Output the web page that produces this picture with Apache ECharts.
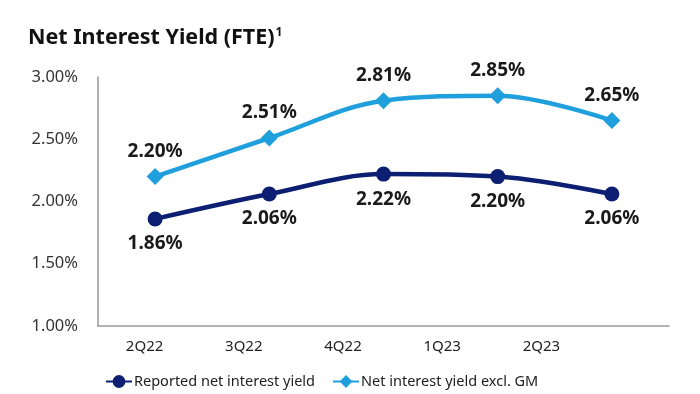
<!DOCTYPE html>
<html><head><meta charset="utf-8">
<script src="https://cdn.jsdelivr.net/npm/echarts@6/dist/echarts.min.js"></script>
<style>html,body{margin:0;padding:0;background:#fff}#c{width:700px;height:394px}</style>
</head><body><div id="c"></div>
<script>
const categories = ['2Q22','3Q22','4Q22','1Q23','2Q23'];
const reported = [1.86, 2.06, 2.22, 2.20, 2.06];
const exclGM = [2.20, 2.51, 2.81, 2.85, 2.65];
const seriesNames = ['Reported net interest yield', 'Net interest yield excl. GM'];

const FONT = '"Noto Sans", "Open Sans", sans-serif';
const DARK = '#0c1f72';
const LIGHT = '#1f9fdc';
const chart = echarts.init(document.getElementById('c'), null, {renderer:'canvas'});
const pct = p => p.value.toFixed(2) + '%';
chart.setOption({
  animation: false,
  textStyle: {fontFamily: FONT},
  title: {
    text: '{t|Net Interest Yield (FTE)}{s|1}',
    left: 23, top: 22,
    textStyle: {rich: {
      t: {fontSize: 21.5, fontWeight: 'bold', color: '#111', fontFamily: FONT},
      s: {fontSize: 12, fontWeight: 'bold', color: '#111', fontFamily: FONT, verticalAlign: 'top', padding:[0,0,10,1]}
    }}
  },
  legend: {
    bottom: 0, left: 100, itemGap: 17, itemWidth: 26, itemHeight: 16,
    textStyle: {fontSize: 14.5, color: '#222', fontFamily: FONT, padding: [0,0,0,-3]},
    data: seriesNames
  },
  grid: [
    {left: 98, right: 31, top: 77, bottom: 68},
    {left: 95, right: 109, top: 77, bottom: 68}
  ],
  xAxis: [
    {
      type: 'category', data: categories, boundaryGap: true, gridIndex: 0,
      axisLine: {lineStyle: {color: '#999', width: 1.5}},
      axisTick: {show: false},
      axisLabel: {show: false}
    },
    {
      type: 'category', data: categories, boundaryGap: true, gridIndex: 1,
      axisLine: {show: false},
      axisTick: {show: false},
      axisLabel: {fontSize: 15, color: '#222', margin: 13}
    }
  ],
  yAxis: [
    {
      type: 'value', min: 1.0, max: 3.0, interval: 0.5, gridIndex: 0,
      axisLine: {show: true, lineStyle: {color: '#999', width: 1.5}},
      axisTick: {show: false},
      splitLine: {show: false},
      axisLabel: {fontSize: 16.5, color: '#333', margin: 20, formatter: v => v.toFixed(2) + '%'}
    },
    {
      type: 'value', min: 1.0, max: 3.0, interval: 0.5, gridIndex: 1, show: false,
      splitLine: {show: false}
    }
  ],
  series: [
    {
      name: seriesNames[0], type: 'line', smooth: 0.35, data: reported,
      symbol: 'circle', symbolSize: 15,
      lineStyle: {color: DARK, width: 4.5},
      itemStyle: {color: DARK},
      label: {show: true, position: 'bottom', distance: 8, fontSize: 19, fontWeight: 'bold', color: '#1a1a1a', formatter: pct}
    },
    {
      name: seriesNames[1], type: 'line', smooth: 0.35, data: exclGM,
      symbol: 'diamond', symbolSize: 17,
      lineStyle: {color: LIGHT, width: 4.5},
      itemStyle: {color: LIGHT},
      label: {show: true, position: 'top', distance: 7, fontSize: 19, fontWeight: 'bold', color: '#1a1a1a', formatter: pct}
    }
  ]
});
</script></body></html>
